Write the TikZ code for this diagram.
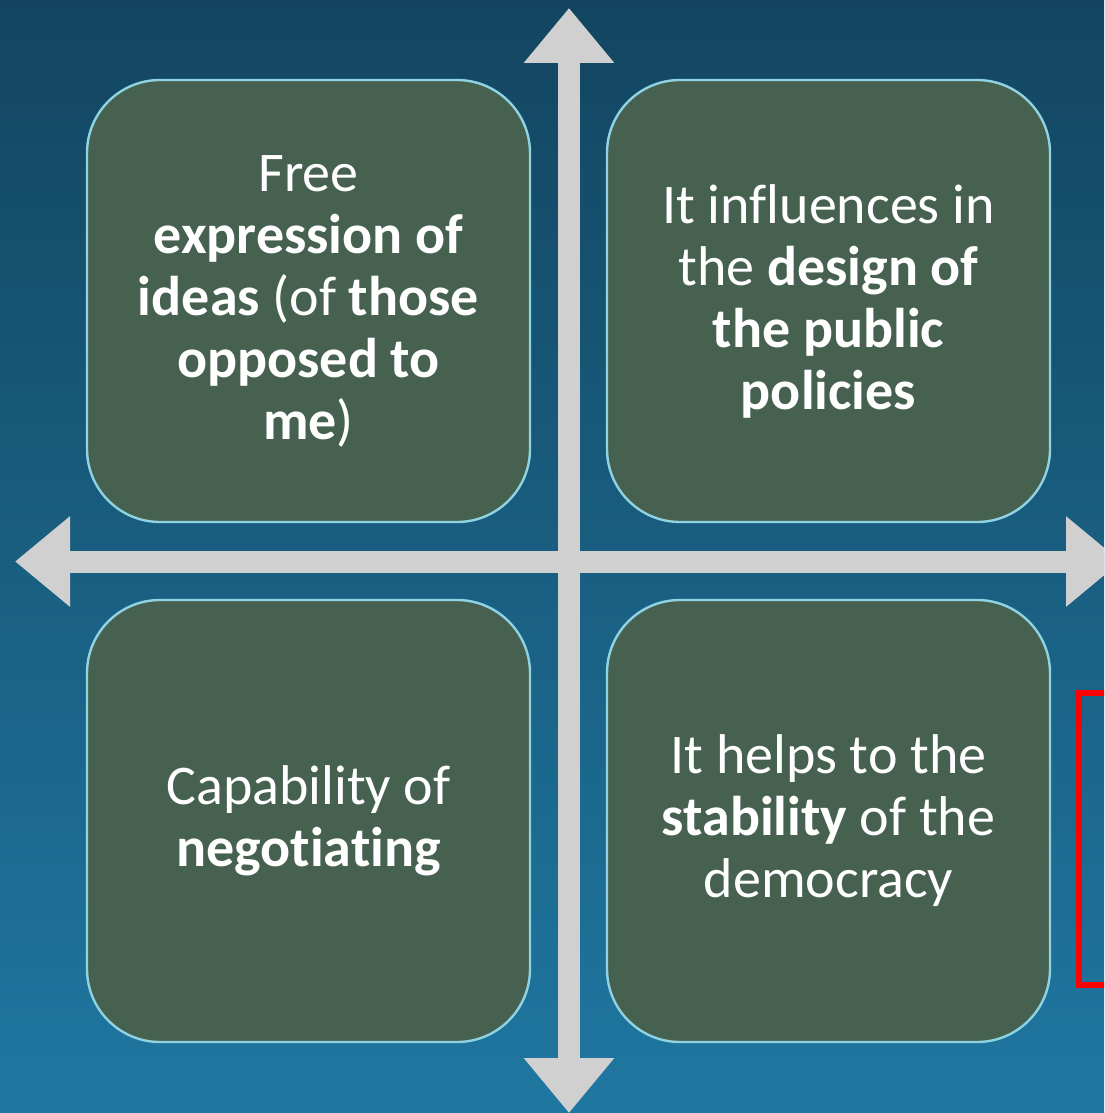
\documentclass[tikz,border=0pt]{standalone}
\usepackage{fontspec}
\setmainfont{Carlito}[Ligatures=NoCommon]
\usetikzlibrary{arrows.meta}

\definecolor{bgtop}{HTML}{134560}
\definecolor{bgbottom}{HTML}{1F77A1}
\definecolor{boxfill}{HTML}{476151}
\definecolor{boxline}{HTML}{8FD3E3}
\definecolor{axisgrey}{HTML}{D0D0D0}

\begin{document}
\begin{tikzpicture}[x=0.5pt, y=-0.5pt,
    every node/.style={font=\fontsize{28}{31}\selectfont, text=white, align=center},
    quad/.style={draw=boxline, line width=1.2pt, fill=boxfill, rounded corners=36.5pt,
        minimum width=221.5pt, minimum height=221pt, inner sep=0pt},
    axis/.style={draw=axisgrey, line width=11pt,
        arrows={Triangle[length=27.5pt,width=43.5pt]-Triangle[length=27.5pt,width=43.5pt]}}]

    \useasboundingbox (0,0) rectangle (1104,1113);
    \clip (0,0) rectangle (1104,1113);
    \shade[top color=bgtop, bottom color=bgbottom] (0,0) rectangle (1104,1113);

    % axes
    \coordinate (north) at (569,8);
    \coordinate (south) at (569,1113);
    \coordinate (west)  at (15,561.5);
    \coordinate (east)  at (1121,561.5);
    \draw[axis] (west)  -- (east);
    \draw[axis] (north) -- (south);

    % quadrants
    \node (expression) [quad] at (308.5,301)
        {Free\\ \bfseries expression of\\ \textbf{ideas} (of \textbf{those}\\ \bfseries opposed to\\ \textbf{me})};
    \node (design)     [quad] at (828.5,301)
        {It influences in\\ the \textbf{design of}\\ \bfseries the public\\ \bfseries policies};
    \node (negotiate)  [quad] at (308.5,821)
        {Capability of\\ \bfseries negotiating};
    \node (stability)  [quad] at (828.5,821)
        {It helps to the\\ \textbf{stability} of the\\ democracy};

    \draw[red, line width=3.2pt] (1079,693) rectangle (1140,985);
\end{tikzpicture}
\end{document}
